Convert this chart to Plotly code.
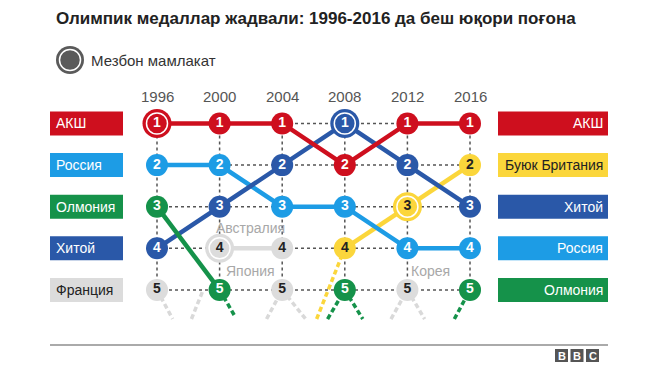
import plotly.graph_objects as go

# The page body has an 8px margin, so the figure is sized to the visible area
OFF = 8
W, H = 660 - OFF, 371 - OFF

# ---------------- data ----------------
title = "Олимпик медаллар жадвали: 1996-2016 да беш юқори поғона"
legend_label = "Мезбон мамлакат"
years = [1996, 2000, 2004, 2008, 2012, 2016]
year_labels = ["1996", "2000", "2004", "2008", "2012", "2016"]
ranks = [1, 2, 3, 4, 5]

usa = [1, 1, 1, 2, 1, 1]
russia = [2, 2, 3, 3, 4, 4]
china = [4, 3, 2, 1, 2, 3]
germany = [3, 5, None, 5, None, 5]
britain = [None, None, None, 4, 3, 2]
australia = [None, 4, 4, None, None, None]
france = [5, None, None, None, None, None]
japan = [None, None, 5, None, None, None]
korea = [None, None, None, None, 5, None]

host_year = {"usa": 1996, "australia": 2000, "china": 2008, "britain": 2012}

left_labels = ["АКШ", "Россия", "Олмония", "Хитой", "Франция"]
left_keys = ["usa", "russia", "germany", "china", "france"]
right_labels = ["АКШ", "Буюк Британия", "Хитой", "Россия", "Олмония"]
right_keys = ["usa", "britain", "china", "russia", "germany"]

annot_names = ["Австралия", "Япония", "Корея"]
annot_year = [2002, 2002, 2013.5]
annot_rank = [3.5, 4.55, 4.55]

# dashed continuations off the top five: (colour key, years, ranks)
stubs = [
    ("gray", [1996, 1997.0], [5, 5.7]),
    ("gray", [1998.2, 1998.95], [5.7, 5.0]),
    ("gray", [2003.0, 2004], [5.7, 5]),
    ("gray", [2004, 2005.5], [5, 5.7]),
    ("gray", [2010.95, 2012], [5.7, 5]),
    ("gray", [2012, 2013.1], [5, 5.7]),
    ("britain", [2006.2, 2008], [5.7, 4]),
    ("germany", [2000, 2001.0], [5, 5.65]),
    ("germany", [2006.9, 2008], [5.7, 5]),
    ("germany", [2008, 2009.15], [5, 5.7]),
    ("germany", [2015.0, 2016], [5.7, 5]),
]

# ---------------- styles ----------------
colors = {
    "usa": "#CE0F1E", "russia": "#1D9CE5", "germany": "#15924A",
    "china": "#2A58A8", "britain": "#FBD63B", "australia": "#DCDCDC",
    "france": "#DCDCDC", "japan": "#DCDCDC", "korea": "#DCDCDC", "gray": "#D9D9D9",
}
txtcol = {"britain": "#222", "australia": "#222", "france": "#222",
          "japan": "#222", "korea": "#222"}
FONT = "Liberation Sans, Arial, sans-serif"

# pixel geometry (page pixels)
X0, PPY = 157.0, 15.65     # x pixel of 1996, pixels per year
Y0, PPR = 123.5, 41.6      # y pixel of rank 1, pixels per rank
xr = [1996 - (X0 - OFF) / PPY, 1996 + (W - (X0 - OFF)) / PPY]
yr = [1 + (H - (Y0 - OFF)) / PPR, 1 - (Y0 - OFF) / PPR]

def px(x):
    return (x - OFF) / W

def py(y):
    return 1 - (y - OFF) / H

fig = go.Figure()
shapes = []
annotations = []

# dotted grid
for r in ranks:
    shapes.append(dict(type="line", xref="x", yref="y", x0=years[0], x1=years[-1], y0=r, y1=r,
                       line=dict(color="#555", width=1.5, dash="dot"), layer="below"))
for yv in years:
    shapes.append(dict(type="line", xref="x", yref="y", x0=yv, x1=yv, y0=ranks[0], y1=ranks[-1],
                       line=dict(color="#555", width=1.5, dash="dot"), layer="below"))

# stubs
for key, xs, ys in stubs:
    fig.add_trace(go.Scatter(x=xs, y=ys, mode="lines", hoverinfo="skip",
                             line=dict(color=colors[key], width=3.5, dash="5px,3px")))

series = [("australia", australia), ("britain", britain), ("russia", russia),
          ("china", china), ("germany", germany), ("usa", usa),
          ("france", france), ("japan", japan), ("korea", korea)]

for key, vals in series:
    fig.add_trace(go.Scatter(x=years, y=vals, mode="lines", hoverinfo="skip",
                             line=dict(color=colors[key], width=4.5), connectgaps=False))

for key, vals in series:
    xs = [y for y, v in zip(years, vals) if v is not None]
    ys = [v for v in vals if v is not None]
    col = colors[key]
    if key in host_year:
        hy = host_year[key]
        hv = vals[years.index(hy)]
        fig.add_trace(go.Scatter(x=[hy], y=[hv], mode="markers", hoverinfo="skip",
                                 marker=dict(size=29, color=col, line=dict(width=0))))
        fig.add_trace(go.Scatter(x=[hy], y=[hv], mode="markers", hoverinfo="skip",
                                 marker=dict(size=21, color=col, line=dict(width=1.5, color="white"))))
        rest = [(a, b) for a, b in zip(xs, ys) if a != hy]
        xs2 = [a for a, b in rest]
        ys2 = [b for a, b in rest]
    else:
        xs2, ys2 = xs, ys
    fig.add_trace(go.Scatter(x=xs2, y=ys2, mode="markers", hoverinfo="skip",
                             marker=dict(size=22, color=col, line=dict(width=0))))
    fig.add_trace(go.Scatter(x=xs, y=ys, mode="text", text=[str(v) for v in ys],
                             hoverinfo="skip", textposition="middle center",
                             textfont=dict(family=FONT, size=14, weight="bold",
                                           color=txtcol.get(key, "white"))))

# year labels
for yv, lab in zip(years, year_labels):
    annotations.append(dict(x=yv, y=py(96), xref="x", yref="paper", text=lab, showarrow=False,
                            font=dict(family=FONT, size=15, color="#555"),
                            xanchor="center", yanchor="middle"))

# side label boxes
bh = 12
for r, lab, key in zip(ranks, left_labels, left_keys):
    yc = Y0 + (r - 1) * PPR
    shapes.append(dict(type="rect", xref="paper", yref="paper", x0=px(50), x1=px(123),
                       y0=py(yc - bh), y1=py(yc + bh), fillcolor=colors[key], line=dict(width=0)))
    annotations.append(dict(x=px(54), y=py(yc), xref="paper", yref="paper", text=lab,
                            showarrow=False, xanchor="left", yanchor="middle",
                            font=dict(family=FONT, size=14, color=txtcol.get(key, "white"))))
for r, lab, key in zip(ranks, right_labels, right_keys):
    yc = Y0 + (r - 1) * PPR
    shapes.append(dict(type="rect", xref="paper", yref="paper", x0=px(498), x1=px(608),
                       y0=py(yc - bh), y1=py(yc + bh), fillcolor=colors[key], line=dict(width=0)))
    annotations.append(dict(x=px(605), y=py(yc), xref="paper", yref="paper", text=lab,
                            showarrow=False, xanchor="right", yanchor="middle",
                            font=dict(family=FONT, size=14, color=txtcol.get(key, "white"))))

# country name notes
for name, ax, ay in zip(annot_names, annot_year, annot_rank):
    annotations.append(dict(x=ax, y=ay, xref="x", yref="y", text=name, showarrow=False,
                            xanchor="center", yanchor="middle",
                            font=dict(family=FONT, size=14, color="#A8A8A8")))

# title
annotations.append(dict(x=px(54), y=py(18), xref="paper", yref="paper", text=title,
                        showarrow=False, xanchor="left", yanchor="middle",
                        font=dict(family=FONT, size=17, weight="bold", color="#222")))

# host legend
shapes.append(dict(type="circle", xref="paper", yref="paper", x0=px(56), x1=px(84),
                   y0=py(46), y1=py(74), fillcolor="#5A5A5A", line=dict(width=0)))
shapes.append(dict(type="circle", xref="paper", yref="paper", x0=px(59.5), x1=px(80.5),
                   y0=py(49.5), y1=py(70.5), fillcolor="#5A5A5A",
                   line=dict(width=1.5, color="white")))
annotations.append(dict(x=px(89), y=py(60), xref="paper", yref="paper", text=legend_label,
                        showarrow=False, xanchor="left", yanchor="middle",
                        font=dict(family=FONT, size=15, color="#333")))

# bottom rule
shapes.append(dict(type="line", xref="paper", yref="paper", x0=px(50), x1=px(608),
                   y0=py(345), y1=py(345), line=dict(color="#AAAAAA", width=2)))

# BBC logo
for i, ch in enumerate(["B", "B", "C"]):
    x0 = 555 + i * 15.5
    shapes.append(dict(type="rect", xref="paper", yref="paper", x0=px(x0), x1=px(x0 + 13),
                       y0=py(349), y1=py(362), fillcolor="#555", line=dict(width=0)))
    annotations.append(dict(x=px(x0 + 6.5), y=py(355.5), xref="paper", yref="paper", text=ch,
                            showarrow=False, xanchor="center", yanchor="middle",
                            font=dict(family=FONT, size=11, weight="bold", color="white")))

fig.update_layout(
    width=W, height=H, margin=dict(l=0, r=0, t=0, b=0),
    paper_bgcolor="white", plot_bgcolor="white", showlegend=False,
    xaxis=dict(range=xr, visible=False, fixedrange=True),
    yaxis=dict(range=yr, visible=False, fixedrange=True),
    shapes=shapes, annotations=annotations,
)

fig.write_html("out.html")
